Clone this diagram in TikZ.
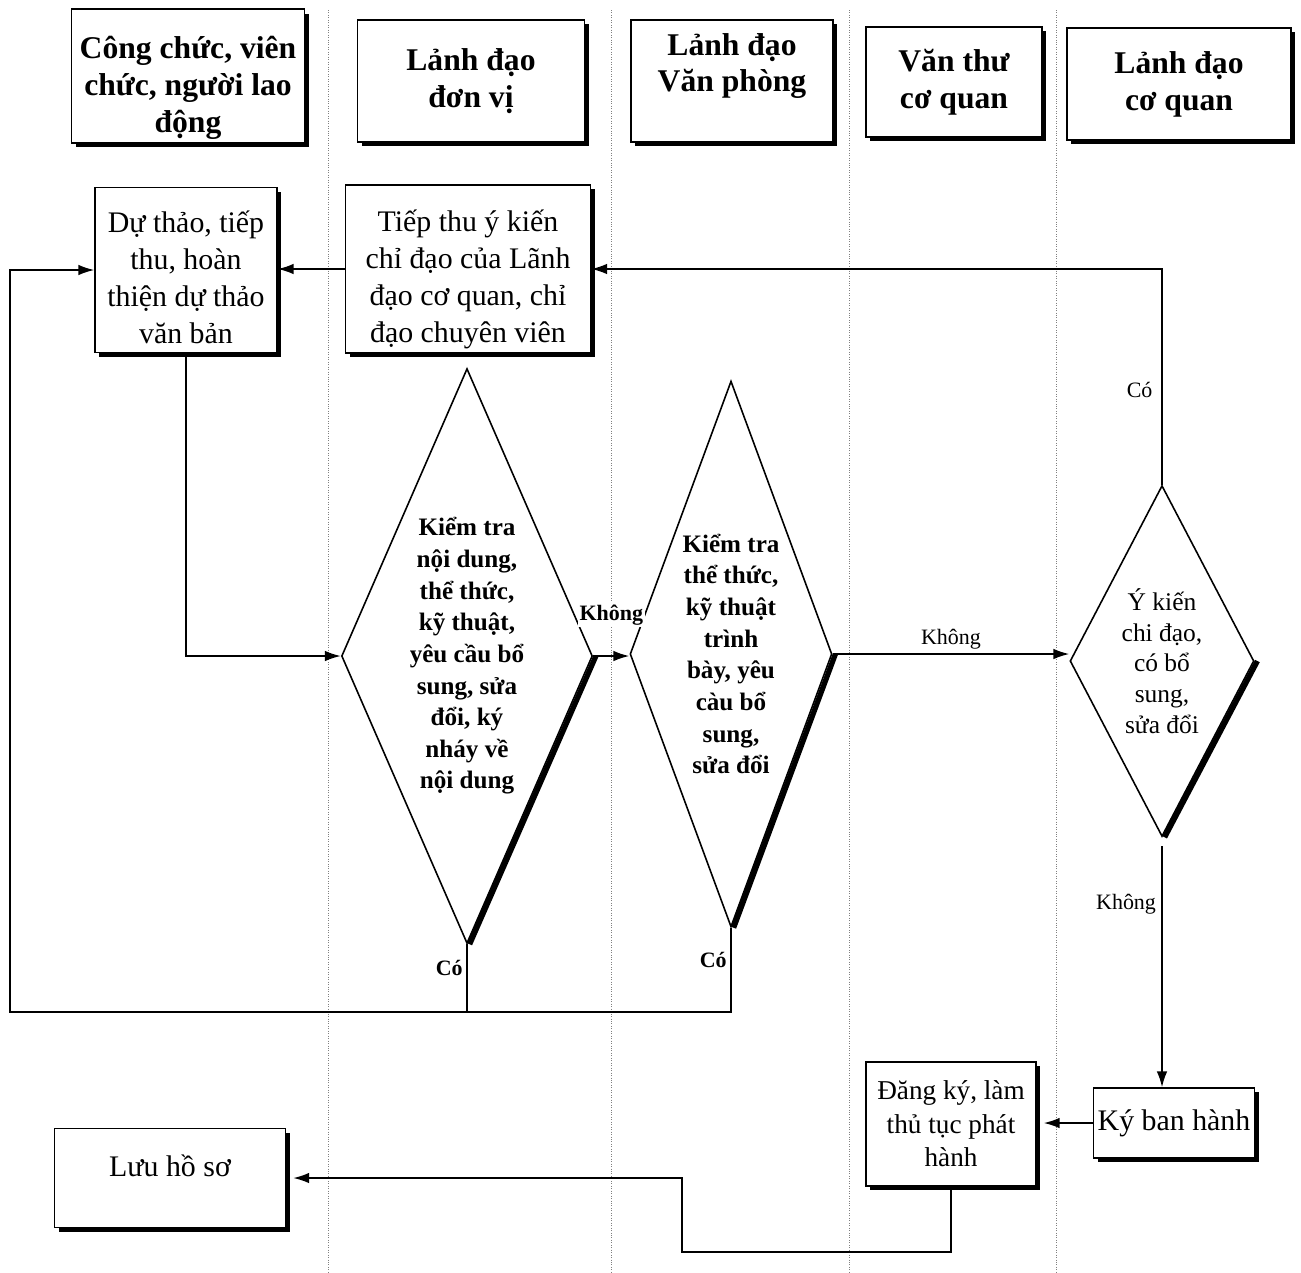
\documentclass[tikz,border=0pt]{standalone}
\usepackage{fontspec}
\setmainfont{Liberation Serif}
\usetikzlibrary{shapes.geometric,arrows.meta,shadows}

\begin{document}
\begin{tikzpicture}[x=0.02cm, y=-0.02cm,
    lane/.style={gray, densely dotted, line width=0.4pt},
    headbox/.style={draw, fill=white, line width=0.9pt, align=center, inner sep=2pt,
      font=\fontsize{18}{21}\selectfont\bfseries,
      drop shadow={shadow xshift=2.5pt, shadow yshift=-2.5pt, fill=black, opacity=1}},
    taskbox/.style={headbox, font=\fontsize{17}{21}\selectfont},
    check/.style={diamond, draw, line width=0.9pt, inner sep=0pt, align=center,
      font=\fontsize{14.3}{18}\selectfont\bfseries},
    thickedge/.style={line width=3pt},
    flow/.style={line width=0.9pt},
    arr/.style={flow, -{Latex[length=9pt, width=6pt]}},
    lbl/.style={font=\fontsize{12.5}{14}\selectfont, inner sep=1pt},
    blbl/.style={lbl, font=\fontsize{12.5}{14}\selectfont\bfseries}
  ]
    \useasboundingbox (0,0) rectangle (1301,1272);

    % draw lanes
    \foreach \x in {328,611,849,1056}
    \draw[lane] (\x,10) -- (\x,1272);

    % draw lane headers
    \node[headbox, minimum width=4.66cm, minimum height=2.66cm] (hcong) at (188,76) {\rule{0pt}{26pt}Công chức, viên\\chức, người lao\\động};
    \node[headbox, minimum width=4.54cm, minimum height=2.44cm] (hdonvi) at (471,81) {Lảnh đạo\\đơn vị};
    \node[headbox, minimum width=4.04cm, minimum height=2.44cm] (hvp) at (732,81) {Lảnh đạo\\Văn phòng\\\mbox{}};
    \node[headbox, minimum width=3.52cm, minimum height=2.2cm] (hvanthu) at (954,82) {Văn thư\\cơ quan};
    \node[headbox, minimum width=4.48cm, minimum height=2.24cm] (hcq) at (1179,84) {Lảnh đạo\\cơ quan};

    % draw steps
    \node[taskbox, minimum width=3.64cm, minimum height=3.3cm] (duthao) at (186,270) {\rule{0pt}{21pt}Dự thảo, tiếp\\thu, hoàn\\thiện dự thảo\\văn bản};
    \node[taskbox, minimum width=4.9cm, minimum height=3.36cm] (tiepthu) at (468,269) {\rule{0pt}{24pt}Tiếp thu ý kiến\\chỉ đạo của Lãnh\\đạo cơ quan, chỉ\\đạo chuyên viên};
    \node[taskbox, minimum width=3.22cm, minimum height=1.4cm] (kybh) at (1174,1123) {Ký ban hành};
    \node[taskbox, minimum width=3.4cm, minimum height=2.48cm, font=\fontsize{15.5}{19}\selectfont] (dangky) at (951,1124) {Đăng ký, làm\\thủ tục phát\\hành};
    \node[taskbox, minimum width=4.62cm, minimum height=1.98cm, text depth=14pt] (luuhoso) at (170,1178) {Lưu hồ sơ};

    % draw checks
    \node[check, shape aspect=0.437, minimum width=5.02cm, minimum height=11.5cm] (kt1) at (467,656) {Kiểm tra\\nội dung,\\thể thức,\\kỹ thuật,\\yêu cầu bổ\\sung, sửa\\đổi, ký\\nháy về\\nội dung};
    \node[check, shape aspect=0.37, minimum width=4.04cm, minimum height=10.92cm] (kt2) at (731,654) {Kiểm tra\\thể thức,\\kỹ thuật\\trình\\bày, yêu\\càu bổ\\sung,\\sửa đổi};
    \node[check, shape aspect=0.52, minimum width=3.68cm, minimum height=7.02cm, font=\fontsize{14.5}{17.5}\selectfont] (ykien) at (1162,661) {Ý kiến\\chi đạo,\\có bổ\\sung,\\sửa đổi};
    \draw[thickedge] ([xshift=1.5pt]kt1.east) -- ([xshift=1.5pt]kt1.south);
    \draw[thickedge] ([xshift=1.5pt]kt2.east) -- ([xshift=1.5pt]kt2.south);
    \draw[thickedge] ([xshift=1.5pt]ykien.east) -- ([xshift=1.5pt]ykien.south);

    % draw connectors
    \coordinate (back) at (10,1012);
    \coordinate (down) at (682,1252);
    \draw[arr] (tiepthu.west) -- (tiepthu.west -| duthao.east);
    \draw[arr] (duthao.south) |- (kt1.west);
    \draw[arr] (kt1.east) -- (kt1.east -| kt2.west) node[blbl, fill=white, midway, above=16pt] {Không};
    \draw[flow] (kt1.south) -- (kt1.south |- back) node[blbl, pos=0.35, left=1pt] {Có};
    \draw[arr] (kt2.south) -- (kt2.south |- back) node[blbl, pos=0.38, left=1pt] {Có} -- (back) |- (duthao.west);
    \draw[arr] (kt2.east) -- (kt2.east -| ykien.west) node[lbl, midway, above=1pt] {Không};
    \draw[arr] (ykien.north) |- (tiepthu.east) node[lbl, pos=0.22, left=4pt] {Có};
    \draw[arr] ([yshift=-5pt]ykien.south) -- (ykien.south |- kybh.north) node[lbl, pos=0.24, left=2pt] {Không};
    \draw[arr] (kybh.west) -- ([xshift=4pt]kybh.west -| dangky.east);
    \draw[arr] (dangky.south) |- (down) |- ([xshift=4pt]luuhoso.east);
\end{tikzpicture}
\end{document}
